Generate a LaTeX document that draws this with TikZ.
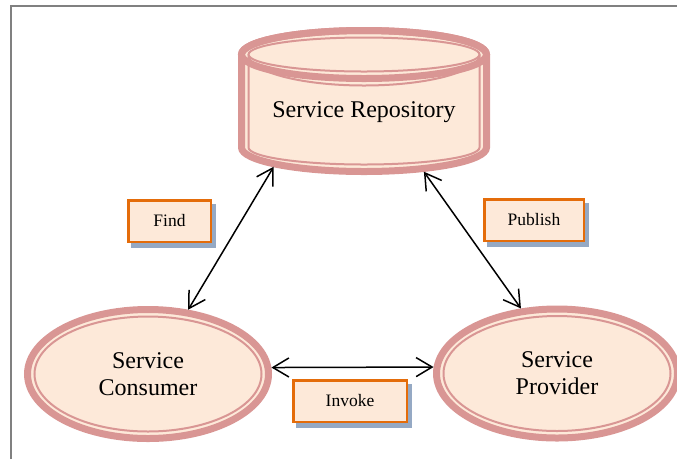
\documentclass[tikz,border=0pt]{standalone}
\usepackage{fontspec}
\setmainfont{Liberation Serif}
\usetikzlibrary{arrows.meta,shapes.geometric,backgrounds}
\definecolor{rim}{HTML}{D99694}
\definecolor{cream}{HTML}{FDE9D9}
\definecolor{tagline}{HTML}{E46C0A}
\definecolor{tagshadow}{HTML}{95A9C4}
\definecolor{framegray}{HTML}{808080}
\begin{document}
\begin{tikzpicture}[x=1pt,y=-1pt,
  outerrim/.style={draw=rim,line width=7pt},
  innerrim/.style={draw=rim,line width=2pt},
  actor/.style={ellipse,minimum width=241pt,minimum height=129pt,inner sep=0pt,
    outer sep=3.5pt,fill=cream,outerrim,align=center,
    font=\fontsize{24}{27}\selectfont},
  tag/.style={rectangle,draw=tagline,line width=2.5pt,fill=cream,
    minimum height=41.5pt,inner sep=0pt,font=\fontsize{17.5}{20}\selectfont},
  barb/.tip={Straight Barb[length=16pt,width=19pt]},
  link/.style={barb-barb,line width=1.5pt,black}
]
\useasboundingbox (0,0) rectangle (677,459);

% page frame
\draw[framegray,line width=1.5pt] (11,459) -- (11,6) -- (677,6);

% repository cylinder: body fill, thin inner rim, thick outer rim
\fill[cream] (241.5,54.5) -- (241.5,147.5)
  arc[start angle=180,end angle=0,x radius=122.5,y radius=24]
  -- (486.5,54.5)
  arc[start angle=0,end angle=-180,x radius=122.5,y radius=24] -- cycle;
\draw[innerrim] (364,54.5) ellipse[x radius=115.5,y radius=17];
\draw[innerrim] (248.5,54.5)
  arc[start angle=180,end angle=0,x radius=115.5,y radius=31]
  -- (479.5,147.5)
  arc[start angle=0,end angle=180,x radius=115.5,y radius=17] -- cycle;
\draw[outerrim] (241.5,54.5) -- (241.5,147.5)
  arc[start angle=180,end angle=0,x radius=122.5,y radius=24]
  -- (486.5,54.5)
  arc[start angle=0,end angle=-180,x radius=122.5,y radius=24] -- cycle;
\draw[outerrim] (364,54.5) ellipse[x radius=122.5,y radius=24];
\node[font=\fontsize{24}{27}\selectfont,anchor=base] (repotext) at (364,117) {Service Repository};
\node[ellipse,minimum width=245pt,minimum height=48pt,inner sep=0pt,outer sep=3.5pt] (repo) at (364,147.5) {};

% consumer and provider
\node[actor] (cons) at (148,374) {Service\\Consumer};
\node[actor] (prov) at (557,373.5) {Service\\Provider};
\draw[innerrim] (cons.center) ellipse[x radius=113.5,y radius=57.5];
\draw[innerrim] (prov.center) ellipse[x radius=113.5,y radius=57.5];

% operation tags
\node[tag,minimum width=82.5pt] (find) at (169.5,221) {Find};
\node[tag,minimum width=99.5pt] (publish) at (534,220) {Publish};
\node[tag,minimum width=113.5pt] (invoke) at (350,401) {Invoke};
\begin{pgfonlayer}{background}
  \foreach \t in {find,publish,invoke}
    \fill[tagshadow] ([shift={(4,5)}]\t.south west) rectangle ([shift={(4,5)}]\t.north east);
\end{pgfonlayer}

% interactions
\draw[link] (cons.58) -- (repo.192.5);
\draw[link] (prov.119) -- (repo.338);
\draw[link] (cons.3) -- (prov.177);
\end{tikzpicture}
\end{document}
